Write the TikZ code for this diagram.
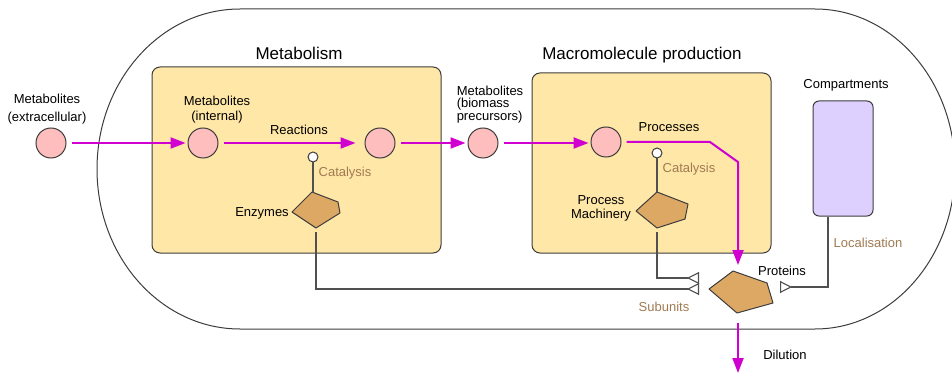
\documentclass[tikz,border=0pt]{standalone}
\usepackage{fontspec}
\setmainfont{Liberation Sans}
\usetikzlibrary{arrows.meta}

\definecolor{flux}{RGB}{208,0,208}
\definecolor{modfill}{RGB}{255,231,168}
\definecolor{metfill}{RGB}{255,190,190}
\definecolor{protfill}{RGB}{220,168,100}
\definecolor{compfill}{RGB}{221,208,255}
\definecolor{annot}{RGB}{160,122,82}
\definecolor{edge}{RGB}{60,60,60}

\begin{document}
\begin{tikzpicture}[x=1pt,y=-1pt,line width=1pt,
  font=\fontsize{13}{15}\selectfont,
  lbl/.style={inner sep=0pt},
  note/.style={lbl,text=annot},
  title/.style={lbl,font=\fontsize{17}{20}\selectfont},
  metab/.style={circle,draw=edge,fill=metfill,minimum size=30pt,inner sep=0pt},
  module/.style={draw=edge,fill=modfill,rounded corners=8pt,inner sep=0pt},
  prot/.style={draw=edge,fill=protfill,line join=round},
  cat/.style={circle,draw=edge,fill=white,minimum size=10pt,inner sep=0pt},
  flow/.style={draw=flux,line width=2pt,shorten <=5pt,shorten >=2pt,
    -{Triangle[length=15pt,width=11pt]}},
  link/.style={draw=edge!90,line width=1.1pt},
  sub/.style={link,-{Triangle[open,reversed,length=12pt,width=12pt,fill=white]}}]
\useasboundingbox (0,0) rectangle (952,374);

\draw[edge] (240,9) -- (815,9) arc[start angle=90,end angle=-90,x radius=140pt,y radius=160pt]
  -- (240,329) arc[start angle=270,end angle=90,x radius=143pt,y radius=160pt] -- cycle;

\node[module,minimum width=289pt,minimum height=186pt] (metabbox) at (296.5,160) {};
\node[module,minimum width=239pt,minimum height=180pt] (macrobox) at (651.5,163) {};
\node[draw=edge,fill=compfill,rounded corners=6pt,minimum width=60pt,minimum height=115pt]
  (comp) at (843,158.5) {};

\node[title] (metabtitle) at (299,53) {Metabolism};
\node[title] (macrotitle) at (642,55) {Macromolecule production};

\node[metab] (ext) at (51,143) {};
\node[metab] (int) at (203,143) {};
\node[metab] (pre) at (380,143) {};
\node[metab] (bio) at (483,143) {};
\node[metab] (mac) at (606,142) {};

\node[lbl,align=center] (extlbl) at (47,109) {Metabolites\\[3pt](extracellular)};
\node[lbl,align=center] (intlbl) at (217,110) {Metabolites\\(internal)};
\node[lbl,align=left,font=\fontsize{13}{12}\selectfont] (biolbl) at (490,105)
  {Metabolites\\(biomass\\precursors)};
\node[lbl] (reac) at (299,130) {Reactions};
\node[lbl] (procs) at (669,127) {Processes};

\draw[flow] (ext) -- (int);
\draw[flow,shorten >=9pt] (int) -- (pre);
\draw[flow] (pre) -- (bio);
\draw[flow] (bio) -- (mac.west |- bio);

\draw[prot] (318,210) coordinate (enz) ++(-6,-18) coordinate (enztop) -- ++(26,10) -- ++(2,11)
  -- ++(-24,15) coordinate (enzbot) -- ++(-24,-16) -- cycle;
\draw[prot] (660,210) coordinate (mach) ++(-3,-18) coordinate (machtop) -- ++(31,12) -- ++(-3,15)
  -- ++(-28,9) coordinate (machbot) -- ++(-21,-17) -- cycle;
\draw[prot] (738,292) coordinate (protein) ++(-5,-21) coordinate (prottop) -- ++(34,12) -- ++(6,20)
  -- ++(-36,10) coordinate (protbot) -- ++(-28,-24) -- cycle;

\node[cat] (cat1) at (313,157) {};
\node[cat] (cat2) at (657,153) {};
\draw[link] (cat1) -- (cat1 |- enztop);
\draw[link] (cat2) -- (cat2 |- machtop);
\node[note] (cat1lbl) at (345,173) {Catalysis};
\node[note] (cat2lbl) at (689,169) {Catalysis};

\node[lbl] (enzlbl) at (262,213) {Enzymes};
\node[lbl,align=center,font=\fontsize{13}{14}\selectfont] (machlbl) at (601,208) {Process\\Machinery};

\coordinate (subhigh) at (699,278);
\coordinate (sublow) at (699,289);
\coordinate (protin) at (780,287);
\draw[sub] ([yshift=-4pt]machbot) |- (subhigh);
\draw[sub] ([yshift=-4pt]enzbot) |- (sublow);
\draw[sub] ([xshift=-15pt]comp.south) |- (protin);

\draw[flow,shorten >=27pt] (mac) -- (710,142) -- (738,162) -- (protein);
\coordinate (dil) at (738,374);
\draw[flow,shorten <=31pt,shorten >=1pt] (protein) -- (dil);

\node[lbl] (complbl) at (846,85) {Compartments};
\node[note] (loclbl) at (868,243) {Localisation};
\node[lbl] (protlbl) at (782,271) {Proteins};
\node[note] (sublbl) at (664,307) {Subunits};
\node[lbl] (dillbl) at (785,355) {Dilution};
\end{tikzpicture}
\end{document}
